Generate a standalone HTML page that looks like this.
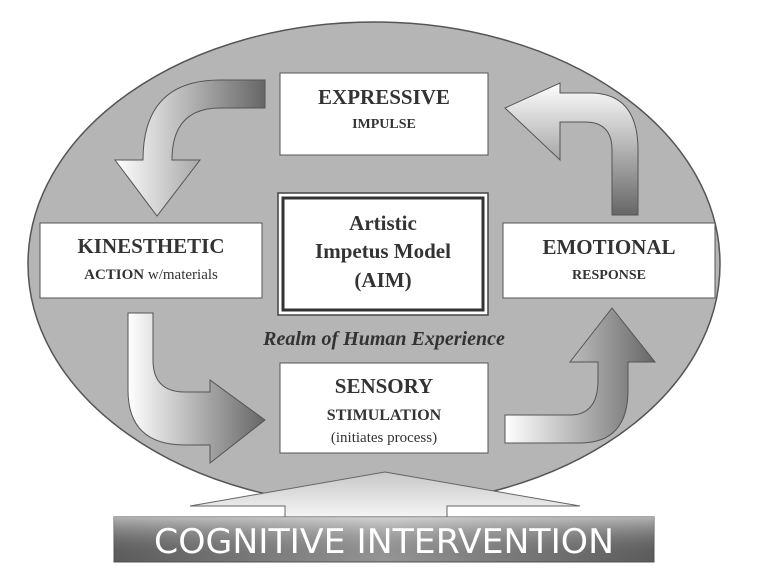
<!DOCTYPE html>
<html><head><style>
html,body{margin:0;padding:0;background:#fff;width:761px;height:576px;overflow:hidden}
svg text{font-family:"Liberation Serif",serif;fill:#333}
</style></head><body>
<svg width="761" height="576" viewBox="0 0 761 576" xmlns="http://www.w3.org/2000/svg">
<defs>
<linearGradient id="gh" x1="0" x2="1" y1="0" y2="0"><stop offset="0" stop-color="#fff"/><stop offset="1" stop-color="#666"/></linearGradient>
<linearGradient id="gv" x1="0" x2="0" y1="0" y2="1"><stop offset="0" stop-color="#fff"/><stop offset="1" stop-color="#666"/></linearGradient>
<linearGradient id="bar" x1="0" x2="1" y1="0" y2="0"><stop offset="0" stop-color="#666"/><stop offset=".5" stop-color="#a8a8a8"/><stop offset="1" stop-color="#666"/></linearGradient>
<linearGradient id="barv" x1="0" x2="0" y1="0" y2="1"><stop offset="0" stop-color="#fff" stop-opacity=".5"/><stop offset="1" stop-color="#000" stop-opacity=".1"/></linearGradient>
<linearGradient id="tri" x1="0" x2="0" y1="0" y2="1"><stop offset="0" stop-color="#c8c8c8"/><stop offset="1" stop-color="#f4f4f4"/></linearGradient>
</defs>
<ellipse cx="374" cy="264" rx="346" ry="242" fill="#b5b5b5" stroke="#555" stroke-width="1.5"/>
<!-- top-left arrow -->
<path d="M265,80 L220,80 Q143,80 143,160 L115,160 L157,216 L200,160 L172,160 Q172,108 220,108 L265,108 Z" fill="url(#gh)" stroke="#555"/>
<!-- top-right arrow -->
<path d="M612,215 L612,150 Q612,122 585,122 L560,122 L560,160 L505,108 L560,83 L560,93 L590,93 Q638,93 638,150 L638,215 Z" fill="url(#gv)" stroke="#555"/>
<!-- bottom-left arrow -->
<path d="M128,313 L153,313 L153,360 Q153,392 185,392 L210,392 L210,380 L265,420 L210,463 L210,445 L185,445 Q128,445 128,390 Z" fill="url(#gh)" stroke="#555"/>
<!-- bottom-right arrow -->
<path d="M505,415 L570,415 Q598,415 598,380 L598,362 L570,362 L612,308 L655,362 L628,362 L628,390 Q628,443 580,443 L505,443 Z" fill="url(#gh)" stroke="#555"/>
<!-- boxes -->
<rect x="280" y="73" width="208" height="82" fill="#fff" stroke="#555"/>
<text x="384" y="104" font-size="21" font-weight="bold" text-anchor="middle">EXPRESSIVE</text>
<text x="384" y="128" font-size="14" font-weight="bold" text-anchor="middle">IMPULSE</text>
<rect x="278" y="193" width="210" height="122" fill="#fff" stroke="#444" stroke-width="1.5"/>
<rect x="283" y="198" width="200" height="112" fill="#fff" stroke="#333" stroke-width="3"/>
<text x="383" y="230" font-size="21" font-weight="bold" text-anchor="middle">Artistic</text>
<text x="383" y="258" font-size="21" font-weight="bold" text-anchor="middle">Impetus Model</text>
<text x="383" y="287" font-size="21" font-weight="bold" text-anchor="middle">(AIM)</text>
<rect x="40" y="223" width="222" height="75" fill="#fff" stroke="#555"/>
<text x="151" y="253" font-size="21" font-weight="bold" text-anchor="middle">KINESTHETIC</text>
<text x="151" y="279" font-size="15" text-anchor="middle"><tspan font-weight="bold">ACTION</tspan> w/materials</text>
<rect x="503" y="223" width="212" height="75" fill="#fff" stroke="#555"/>
<text x="609" y="254" font-size="21" font-weight="bold" text-anchor="middle">EMOTIONAL</text>
<text x="609" y="279" font-size="14" font-weight="bold" text-anchor="middle">RESPONSE</text>
<text x="384" y="345" font-size="20" font-weight="bold" font-style="italic" text-anchor="middle">Realm of Human Experience</text>
<rect x="280" y="363" width="208" height="90" fill="#fff" stroke="#555"/>
<text x="384" y="393" font-size="21" font-weight="bold" text-anchor="middle">SENSORY</text>
<text x="384" y="420" font-size="16" font-weight="bold" text-anchor="middle">STIMULATION</text>
<text x="384" y="442" font-size="15" text-anchor="middle">(initiates process)</text>
<!-- cognitive -->
<polygon points="385,472 580,506 447,506 447,517 285,517 285,506 190,506" fill="url(#tri)" stroke="#666"/>
<rect x="114" y="517" width="540" height="45" fill="url(#bar)" stroke="#555"/>
<rect x="114" y="517" width="540" height="45" fill="url(#barv)"/>
<text x="384" y="553" font-size="34" text-anchor="middle" style="fill:#fff;font-family:'DejaVu Sans','Liberation Sans',sans-serif;font-weight:normal" textLength="460" lengthAdjust="spacingAndGlyphs">COGNITIVE INTERVENTION</text>
</svg>
</body></html>
